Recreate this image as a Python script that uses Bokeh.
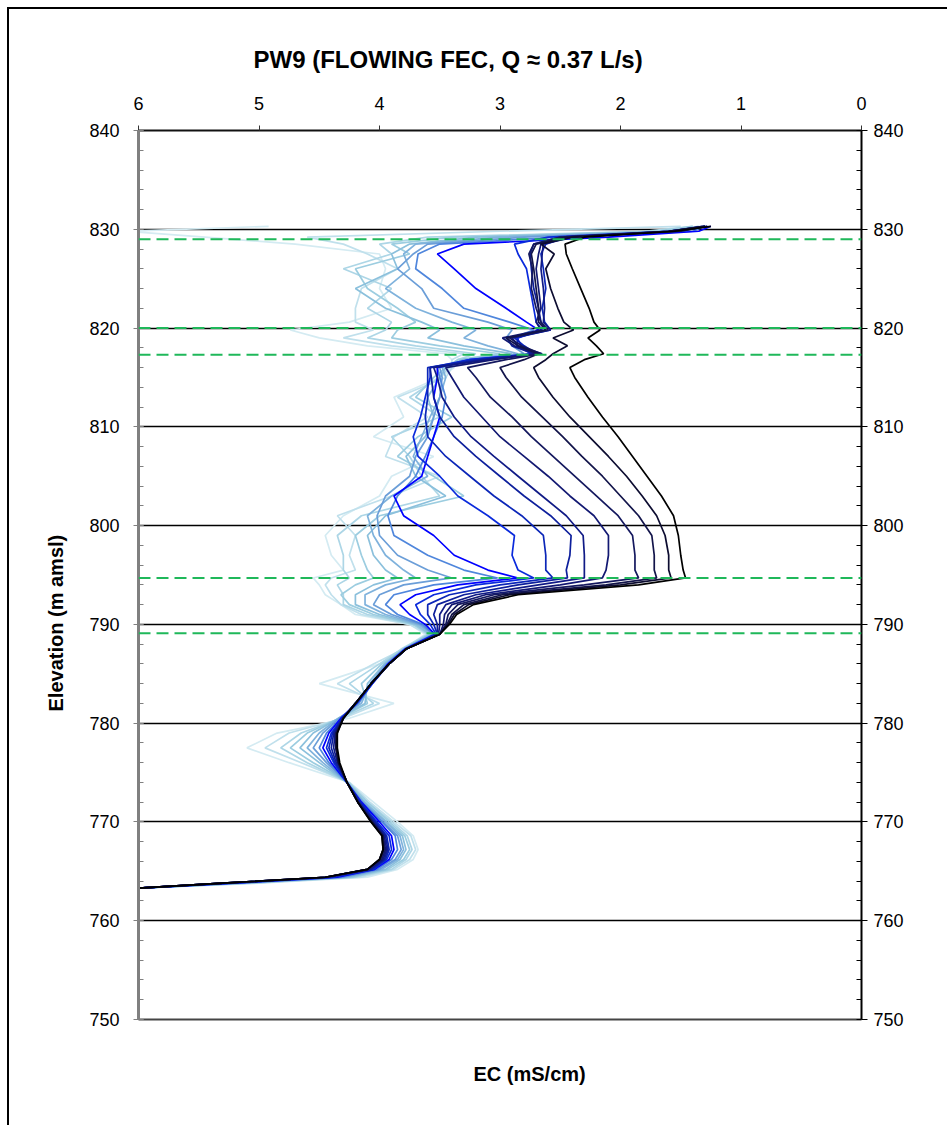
from bokeh.plotting import figure
from bokeh.models import (Range1d, LinearAxis, SingleIntervalTicker, FixedTicker,
                          Span, Title, InlineStyleSheet)
from bokeh.embed import file_html
from bokeh.resources import INLINE

# ---------------- data ----------------
elev_m = [763.3, 763.8, 764.4, 765.2, 766.2, 767.2, 768.6, 770.0, 772.0, 774.0,
          776.0, 777.5, 779.0, 780.5, 782.0, 784.0, 786.0, 787.5, 789.0, 790.0,
          791.0, 792.0, 793.0, 794.0, 794.7, 795.5, 797.0, 799.0, 801.0, 803.0,
          805.0, 807.0, 809.0, 811.0, 813.0, 815.0, 816.0, 816.8, 817.4, 818.2,
          819.0, 819.8, 820.6, 822.0, 824.0, 826.0, 827.5, 828.5, 829.2, 829.8,
          830.3]

run01 = [6.0, 5.0, 4.1, 3.85, 3.72, 3.68, 3.72, 3.85, 4.05, 4.25, 4.75, 5.1, 4.85, 4.25, 3.88, 4.5, 4.0, 3.8, 3.62,
         3.75, 4.2, 4.32, 4.45, 4.5, 4.55, 4.3,
         4.4, 4.45, 4.3, 4.0, 3.9, 3.55, 4.05, 3.8, 3.88, 3.5, 3.38,
         3.4, 3.45, 4.1, 4.5, 4.74, 4.25,
         3.9, 4.0, 3.95, 4.0, 4.7, 5.45, 6.1, 4.92]
run02 = [6.0, 5.05, 4.15, 3.88, 3.75, 3.7, 3.74, 3.88, 4.08, 4.25, 4.65, 4.95, 4.75, 4.3, 4.0, 4.35, 4.05, 3.8, 3.6,
         3.75, 4.15, 4.32, 4.4, 4.45, 4.4, 4.2,
         4.25, 4.2, 4.35, 3.9, 3.5, 3.95, 3.88, 3.6, 3.85, 3.45, 3.4,
         3.4, 3.3, 3.9, 4.3, 4.05, 4.2,
         4.2, 4.15, 3.85, 4.1, 4.3, 4.6, 3.0, 1.5]
run03 = [6.0, 5.1, 4.2, 3.9, 3.78, 3.73, 3.77, 3.9, 4.1, 4.26, 4.6, 4.82, 4.65, 4.32, 4.05, 4.25, 4.0, 3.82, 3.6,
         3.72, 4.1, 4.3, 4.3, 4.35, 4.25, 4.3,
         4.3, 4.35, 4.15, 3.5, 3.65, 3.75, 3.9, 3.5, 3.75, 3.5, 3.42,
         3.35, 3.2, 3.7, 4.1, 3.95, 3.9,
         4.1, 3.9, 4.3, 3.9, 4.0, 3.6, 1.8, 1.4]
run04 = [6.0, 5.1, 4.22, 3.93, 3.8, 3.75, 3.79, 3.92, 4.1, 4.26, 4.55, 4.74, 4.6, 4.33, 4.1, 4.15, 3.98, 3.8, 3.58,
         3.72, 4.05, 4.25, 4.32, 4.2, 4.05, 4.1,
         4.15, 4.2, 4.0, 3.3, 3.55, 3.85, 3.68, 3.4, 3.7, 3.55, 3.45,
         3.35, 3.0, 3.5, 3.9, 3.85, 3.7,
         3.85, 4.1, 4.2, 3.75, 3.9, 3.4, 1.7, 1.4]
run05 = [6.0, 5.15, 4.25, 3.95, 3.83, 3.78, 3.81, 3.94, 4.12, 4.27, 4.5, 4.66, 4.55, 4.34, 4.12, 4.1, 3.96, 3.8, 3.58,
         3.7, 4.0, 4.2, 4.2, 4.05, 3.85, 3.95,
         4.05, 4.1, 3.95, 3.45, 3.7, 3.78, 3.62, 3.55, 3.6, 3.5, 3.45,
         3.3, 2.9, 3.3, 3.6, 3.5, 3.65,
         3.95, 4.2, 3.85, 3.9, 3.75, 3.2, 1.6, 1.35]
run06 = [6.0, 5.15, 4.28, 3.98, 3.85, 3.8, 3.83, 3.95, 4.13, 4.27, 4.47, 4.6, 4.5, 4.34, 4.15, 4.08, 3.95, 3.8, 3.56,
         3.68, 3.95, 4.12, 4.12, 3.95, 3.7, 3.8,
         3.95, 4.05, 4.1, 3.9, 3.6, 3.72, 3.65, 3.58, 3.5, 3.45, 3.48,
         3.3, 2.85, 3.1, 3.3, 3.2, 3.4,
         3.7, 3.95, 3.75, 3.8, 3.7, 3.0, 1.55, 1.32]
run07 = [6.0, 5.2, 4.3, 4.0, 3.87, 3.82, 3.85, 3.97, 4.14, 4.27, 4.44, 4.55, 4.47, 4.33, 4.17, 4.07, 3.94, 3.79, 3.55,
         3.66, 3.9, 4.05, 4.0, 3.8, 3.4, 3.6,
         3.85, 4.0, 4.02, 3.95, 3.75, 3.7, 3.6, 3.55, 3.5, 3.48, 3.5,
         3.25, 2.8, 2.9, 2.95, 2.9, 3.1,
         3.55, 3.65, 3.85, 3.72, 3.6, 2.8, 1.5, 1.3]
run08 = [6.0, 5.2, 4.32, 4.02, 3.9, 3.85, 3.87, 3.98, 4.15, 4.27, 4.42, 4.5, 4.44, 4.32, 4.18, 4.06, 3.93, 3.79, 3.55,
         3.64, 3.85, 3.95, 3.88, 3.55, 3.02, 3.3,
         3.6, 3.88, 3.93, 3.85, 3.7, 3.62, 3.55, 3.48, 3.45, 3.5, 3.52,
         3.2, 2.72, 2.85, 2.9, 2.72, 2.92,
         3.3, 3.48, 3.7, 3.68, 3.5, 2.5, 1.4, 1.3]
run09 = [6.0, 5.22, 4.35, 4.04, 3.92, 3.88, 3.9, 4.0, 4.15, 4.27, 4.4, 4.47, 4.42, 4.32, 4.19, 4.06, 3.93, 3.79, 3.54,
         3.62, 3.75, 3.83, 3.7, 3.35, 2.85, 3.1,
         3.38, 3.55, 3.8, 3.88, 3.65, 3.6, 3.55, 3.5, 3.55, 3.52, 3.52,
         3.25, 2.7, 2.82, 2.86, 2.68, 2.78,
         2.95, 3.2, 3.38, 3.52, 3.3, 2.1, 1.35, 1.25]
run10 = [6.0, 5.25, 4.38, 4.05, 3.94, 3.9, 3.92, 4.02, 4.16, 4.27, 4.38, 4.44, 4.4, 4.31, 4.19, 4.06, 3.92, 3.78, 3.53,
         3.58, 3.66, 3.7, 3.55, 3.2, 2.72, 2.85,
         2.9, 2.88, 3.1, 3.35, 3.5, 3.68, 3.72, 3.66, 3.62, 3.58, 3.58,
         3.25, 2.74, 2.86, 2.85, 2.65, 2.7,
         2.72, 2.75, 2.78, 2.85, 2.88, 2.6, 1.6, 1.3]
run11 = [6.0, 5.25, 4.4, 4.06, 3.95, 3.92, 3.94, 4.03, 4.16, 4.27, 4.37, 4.42, 4.39, 4.31, 4.2, 4.07, 3.92, 3.78, 3.52,
         3.55, 3.6, 3.6, 3.42, 3.0, 2.56, 2.62,
         2.62, 2.64, 2.82, 3.05, 3.25, 3.45, 3.6, 3.62, 3.6, 3.6, 3.6,
         3.2, 2.7, 2.8, 2.88, 2.58, 2.63,
         2.65, 2.62, 2.64, 2.66, 2.62, 2.45, 1.5, 1.28]
run12 = [6.0, 5.28, 4.42, 4.07, 3.96, 3.93, 3.95, 4.04, 4.17, 4.27, 4.36, 4.4, 4.38, 4.31, 4.2, 4.07, 3.92, 3.78, 3.52,
         3.52, 3.55, 3.52, 3.3, 2.85, 2.44, 2.45,
         2.42, 2.41, 2.58, 2.8, 3.0, 3.2, 3.38, 3.5, 3.55, 3.57, 3.58,
         3.15, 2.72, 2.9, 2.94, 2.62, 2.66,
         2.68, 2.72, 2.74, 2.75, 2.72, 2.5, 1.6, 1.3]
run13 = [6.0, 5.3, 4.43, 4.08, 3.97, 3.94, 3.96, 4.05, 4.17, 4.27, 4.35, 4.38, 4.37, 4.3, 4.2, 4.07, 3.92, 3.78, 3.51,
         3.5, 3.5, 3.45, 3.2, 2.68, 2.3, 2.3,
         2.3, 2.31, 2.45, 2.65, 2.85, 3.05, 3.24, 3.38, 3.48, 3.52, 3.55,
         3.1, 2.65, 2.85, 2.9, 2.58, 2.64,
         2.63, 2.64, 2.66, 2.65, 2.64, 2.4, 1.55, 1.3]
run14 = [6.0, 5.3, 4.45, 4.1, 3.98, 3.95, 3.97, 4.06, 4.18, 4.27, 4.34, 4.36, 4.36, 4.3, 4.2, 4.07, 3.92, 3.78, 3.5,
         3.47, 3.46, 3.4, 3.12, 2.5, 2.15, 2.12,
         2.1, 2.1, 2.22, 2.42, 2.6, 2.8, 3.0, 3.15, 3.3, 3.4, 3.45,
         3.05, 2.7, 2.88, 2.98, 2.66, 2.7,
         2.66, 2.68, 2.7, 2.68, 2.66, 2.45, 1.6, 1.32]
run15 = [6.0, 5.3, 4.45, 4.1, 3.99, 3.96, 3.97, 4.06, 4.18, 4.27, 4.34, 4.36, 4.36, 4.3, 4.2, 4.07, 3.92, 3.78, 3.5,
         3.45, 3.43, 3.35, 3.05, 2.3, 1.85, 1.88,
         1.88, 1.9, 2.02, 2.2, 2.38, 2.56, 2.74, 2.9, 3.08, 3.2, 3.27,
         2.95, 2.66, 2.82, 2.92, 2.6, 2.66,
         2.7, 2.74, 2.73, 2.76, 2.72, 2.5, 1.55, 1.28]
run16 = [6.0, 5.3, 4.45, 4.1, 4.0, 3.97, 3.97, 4.06, 4.18, 4.27, 4.34, 4.36, 4.36, 4.3, 4.2, 4.07, 3.92, 3.78, 3.5,
         3.44, 3.4, 3.3, 2.98, 2.12, 1.7, 1.72,
         1.72, 1.74, 1.85, 2.0, 2.15, 2.32, 2.48, 2.65, 2.82, 2.95, 3.0,
         2.8, 2.68, 2.85, 2.95, 2.62, 2.68,
         2.68, 2.7, 2.72, 2.74, 2.7, 2.45, 1.5, 1.3]
run17 = [6.0, 5.3, 4.45, 4.1, 4.0, 3.97, 3.98, 4.07, 4.18, 4.27, 4.34, 4.36, 4.35, 4.3, 4.2, 4.07, 3.92, 3.78, 3.5,
         3.43, 3.38, 3.26, 2.92, 2.0, 1.58, 1.6,
         1.6, 1.63, 1.7, 1.82, 1.95, 2.1, 2.26, 2.42, 2.56, 2.68, 2.72,
         2.62, 2.56, 2.44, 2.56, 2.39, 2.47,
         2.52, 2.58, 2.62, 2.55, 2.66, 2.4, 1.6, 1.3]
run18 = [6.0, 5.3, 4.45, 4.1, 4.0, 3.97, 3.98, 4.07, 4.18, 4.27, 4.33, 4.35, 4.35, 4.3, 4.2, 4.07, 3.92, 3.78, 3.5,
         3.42, 3.36, 3.22, 2.85, 1.85, 1.46, 1.48,
         1.50, 1.52, 1.56, 1.66, 1.78, 1.9, 2.02, 2.15, 2.27, 2.38, 2.42,
         2.3, 2.14, 2.2, 2.27, 2.17, 2.22,
         2.26, 2.33, 2.4, 2.45, 2.46, 2.3, 1.55, 1.25]

run_colors = ["#d4ebf2", "#c0e0ec", "#add6e6", "#9ccde0", "#8bc0dc", "#7fb2dc",
              "#6b9ed8", "#4f86dc", "#0000ff", "#0a2adc", "#0b26b8", "#0d1f9c",
              "#101a86", "#121872", "#14185e", "#12144a", "#0c0c30", "#000000"]

inflow_elev = [829.0, 820.0, 817.3, 794.7, 789.1]

x_ticks = [0, 1, 2, 3, 4, 5, 6]

title_text = "PW9 (FLOWING FEC, Q \u2248 0.37 L/s)"
x_label = "EC (mS/cm)"
y_label = "Elevation (m amsl)"

runs = [run01, run02, run03, run04, run05, run06, run07, run08, run09,
        run10, run11, run12, run13, run14, run15, run16, run17, run18]

# ---------------- figure ----------------
FONT = "Liberation Sans"

p = figure(width=947, height=1125, x_range=Range1d(6, 0), y_range=Range1d(750, 840),
           output_backend="svg", toolbar_location=None, x_axis_location="above",
           min_border_left=138, min_border_right=86, min_border_top=130,
           min_border_bottom=106)
p.title.visible = False
p.outline_line_color = None
p.background_fill_color = "white"
p.border_fill_color = "white"

# top axis
xa = p.xaxis[0]
xa.ticker = FixedTicker(ticks=x_ticks)
xa.major_tick_out = 5
xa.major_tick_in = 0
xa.minor_tick_out = 0
xa.minor_tick_in = 0
xa.axis_line_color = "#111111"
xa.axis_line_width = 2
xa.major_tick_line_color = "#333333"
xa.major_label_text_font = FONT
xa.major_label_text_font_size = "18px"
xa.major_label_text_color = "black"
xa.major_label_standoff = 16

# left axis
ya = p.yaxis[0]
ya.ticker = SingleIntervalTicker(interval=10, num_minor_ticks=5)
ya.major_tick_out = 5
ya.major_tick_in = 5
ya.minor_tick_out = 0
ya.minor_tick_in = 5
ya.axis_line_color = "#808080"
ya.axis_line_width = 3
ya.major_tick_line_color = "#808080"
ya.minor_tick_line_color = "#808080"
ya.major_label_text_font = FONT
ya.major_label_text_font_size = "18px"
ya.major_label_text_color = "black"
ya.major_label_standoff = 14

# right axis
ra = LinearAxis(ticker=SingleIntervalTicker(interval=10, num_minor_ticks=5))
ra.major_tick_out = 6
ra.major_tick_in = 0
ra.minor_tick_out = 0
ra.minor_tick_in = 5
ra.axis_line_color = "black"
ra.axis_line_width = 2
ra.major_label_text_font = FONT
ra.major_label_text_font_size = "18px"
ra.major_label_text_color = "black"
ra.major_label_standoff = 6
p.add_layout(ra, "right")

# bottom axis (line only)
ba = LinearAxis(ticker=FixedTicker(ticks=[]))
ba.major_tick_out = 0
ba.major_tick_in = 0
ba.minor_tick_out = 0
ba.minor_tick_in = 0
ba.axis_line_color = "#444444"
ba.axis_line_width = 2
ba.major_label_text_font_size = "0px"
p.add_layout(ba, "below")

p.xgrid.visible = False
p.ygrid[0].ticker = SingleIntervalTicker(interval=10, num_minor_ticks=0)
p.ygrid[0].grid_line_color = "black"
p.ygrid[0].grid_line_width = 1.3

for ec, col in zip(runs, run_colors):
    p.line(ec, elev_m, line_color=col, line_width=1.7)

for e in inflow_elev:
    p.add_layout(Span(location=e, dimension="width", line_color="#1fb85a",
                      line_width=2, line_dash="12 6"))

p.add_layout(Title(text=title_text, align="left", offset=115, standoff=42,
                   text_font=FONT, text_font_size="24px", text_font_style="bold",
                   text_color="black"), "above")
p.add_layout(Title(text=x_label, align="left", offset=335, standoff=82,
                   text_font=FONT, text_font_size="20px", text_font_style="bold",
                   text_color="black"), "below")
p.add_layout(Title(text=y_label, align="left", offset=308, standoff=39,
                   text_font=FONT, text_font_size="20px", text_font_style="bold",
                   text_color="black"), "left")

p.stylesheets = [InlineStyleSheet(css=":host::after { content: ''; position: absolute; left: 7px; top: 7px; right: 0px; bottom: 0px; border-left: 2px solid #000; border-top: 2px solid #000; pointer-events: none; }")]

open("out.html", "w").write(file_html(p, INLINE))
